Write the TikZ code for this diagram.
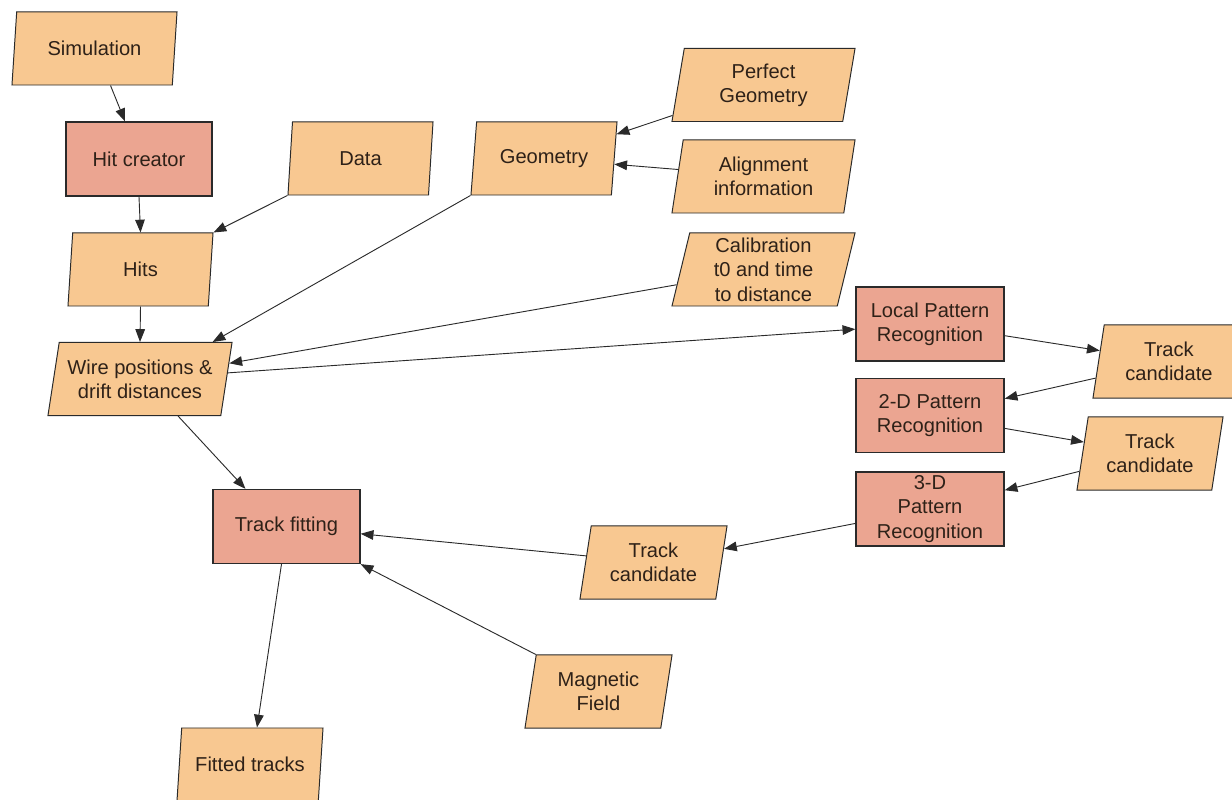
\documentclass[tikz,border=0pt]{standalone}
\usepackage{fontspec}
\setmainfont{Liberation Sans}
\usetikzlibrary{shapes.geometric,arrows.meta}
\definecolor{iofill}{HTML}{F8C891}
\definecolor{procfill}{HTML}{EBA591}
\definecolor{linec}{HTML}{2A2A2A}
\definecolor{txt}{HTML}{2E2118}
\tikzset{
  basebox/.style={draw=linec, text=txt, align=center, inner sep=1pt,
    font=\fontsize{14.3}{17.3}\selectfont},
  io/.style={basebox, shape=trapezium, trapezium left angle=75, trapezium right angle=105,
    trapezium stretches body, fill=iofill, line width=0.7pt, minimum height=1.825cm},
  proc/.style={basebox, shape=rectangle, fill=procfill, line width=0.9pt,
    minimum width=3.675cm, minimum height=1.85cm},
  arr/.style={draw=linec, line width=0.65pt, -{Triangle[length=0.32cm,width=0.24cm]}}
}
\begin{document}
\begin{tikzpicture}[x=0.025cm, y=-0.025cm]
\fill[white] (0,0) rectangle (1232,800);
\useasboundingbox (0,0) rectangle (1232,800);
% nodes
\node[io, minimum width=4.125cm] (sim) at (94.5,48.5) {Simulation};
\node[proc, minimum width=3.65cm] (hit) at (139,159) {Hit creator};
\node[io, minimum width=3.625cm] (data) at (360.5,158.5) {Data};
\node[io, minimum width=3.625cm] (hits) at (140.5,269.5) {Hits};
\node[io, minimum width=4.6cm] (wire) at (140,379) {Wire positions \&\\drift distances};
\node[io, minimum width=3.65cm] (geom) at (544,158.5) {Geometry};
\node[io, minimum width=4.575cm] (perf) at (763.5,85) {Perfect\\Geometry};
\node[io, minimum width=4.575cm] (align) at (763.5,176.5) {Alignment\\information};
\node[io, minimum width=4.575cm] (calib) at (763.5,269.5) {Calibration\\t0 and time\\to distance};
\node[proc, minimum width=3.7cm] (local) at (930,324) {Local Pattern\\Recognition};
\node[proc, minimum width=3.7cm] (twod) at (930,415.5) {2-D Pattern\\Recognition};
\node[proc, minimum width=3.7cm] (threed) at (930,509) {3-D\\Pattern\\Recognition};
\node[io, minimum width=3.8cm] (tca) at (1169,361.5) {Track\\candidate};
\node[io, minimum width=3.65cm] (tcb) at (1150,453.5) {Track\\candidate};
\node[proc, minimum width=3.675cm] (fit) at (286.5,526.5) {Track fitting};
\node[io, minimum width=3.675cm] (tcc) at (653.5,562.5) {Track\\candidate};
\node[io, minimum width=3.675cm] (mag) at (598.5,691.5) {Magnetic\\Field};
\node[io, minimum width=3.65cm] (fitted) at (250,764.5) {Fitted tracks};
% connectors
\draw[arr] ([xshift=0.4cm]sim.south) -- ([xshift=-0.35cm]hit.north);
\draw[arr] (hit.south) -- (hits.north);
\draw[arr] (data.bottom left corner) -- (hits.top right corner);
\draw[arr] (hits.south) -- (wire.north);
\draw[arr] (geom.bottom left corner) -- ([xshift=-0.5cm]wire.top right corner);
\draw[arr] (calib) -- (wire);
\draw[arr] (wire) -- (local);
\draw[arr] (perf) -- (geom);
\draw[arr] (align) -- (geom);
\draw[arr] (local) -- (tca);
\draw[arr] (tca) -- (twod);
\draw[arr] (twod) -- (tcb);
\draw[arr] (tcb) -- (threed);
\draw[arr] (threed) -- (tcc);
\draw[arr] (tcc) -- (fit);
\draw[arr] (mag.top left corner) -- (fit.south east);
\draw[arr] ([xshift=0.95cm]wire.south) -- ([xshift=-1.025cm]fit.north);
\draw[arr] ([xshift=-0.125cm]fit.south) -- ([xshift=0.175cm]fitted.north);
\end{tikzpicture}
\end{document}
